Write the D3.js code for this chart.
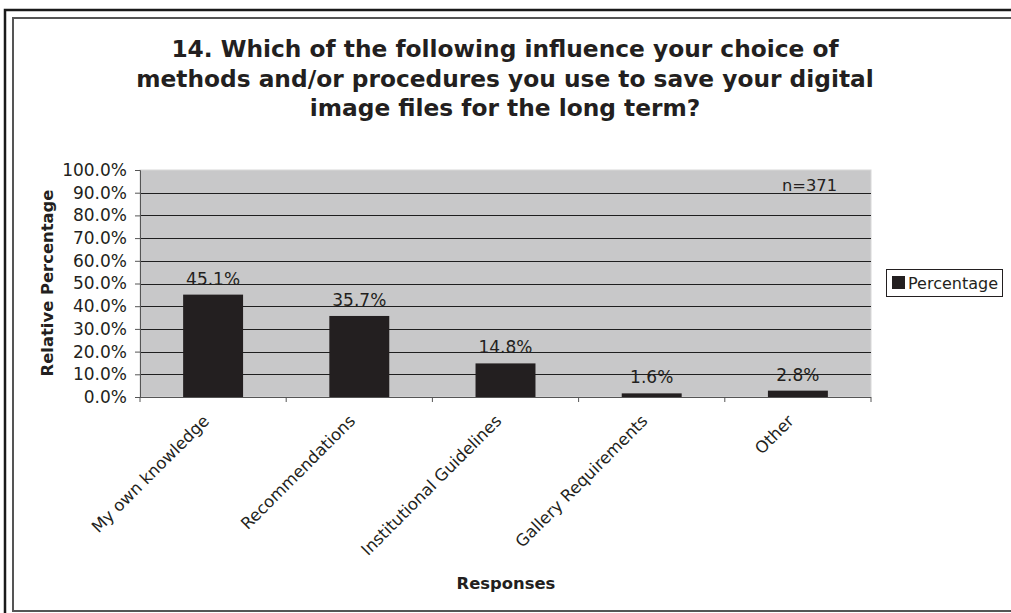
<!DOCTYPE html>
<html>
<head>
<meta charset="utf-8">
<script src="https://cdn.jsdelivr.net/npm/d3@7"></script>
<style>
  html, body { margin: 0; padding: 0; background: #fff; }
  svg { display: block; }
  text { font-family: "DejaVu Sans", Verdana, sans-serif; fill: #231f20; }
</style>
</head>
<body>
<script>
// Survey question 14: responses and their relative share
const categories = ["My own knowledge", "Recommendations", "Institutional Guidelines", "Gallery Requirements", "Other"];
const percentages = [45.1, 35.7, 14.8, 1.6, 2.8];
const yTicks = [0, 10, 20, 30, 40, 50, 60, 70, 80, 90, 100];
const titleLines = [
  "14. Which of the following influence your choice of",
  "methods and/or procedures you use to save your digital",
  "image files for the long term?"
];
const seriesName = "Percentage";
const sampleNote = "n=371";

const W = 1011, H = 613;
const plot = { left: 140, right: 871, top: 170, bottom: 397 };

const svg = d3.select("body").append("svg").attr("width", W).attr("height", H);

// Frames
svg.append("rect").attr("x", 5).attr("y", 10).attr("width", W + 10).attr("height", H + 10)
  .attr("fill", "none").attr("stroke", "#1a1a1a").attr("stroke-width", 2.5);
svg.append("rect").attr("x", 13).attr("y", 18).attr("width", W + 10).attr("height", 593)
  .attr("fill", "none").attr("stroke", "#555").attr("stroke-width", 2);

// Title
svg.append("g").selectAll("text").data(titleLines).join("text")
  .attr("x", 505).attr("y", (d, i) => 57 + i * 29.5)
  .attr("text-anchor", "middle").attr("font-weight", "bold").attr("font-size", 23.3)
  .text(d => d);

const x = d3.scaleBand().domain(categories).range([plot.left, plot.right]).paddingInner(0.59).paddingOuter(0.295);
const xBand = d3.scaleBand().domain(categories).range([plot.left, plot.right]);
const y = d3.scaleLinear().domain([0, 100]).range([plot.bottom, plot.top]);

// Plot background
svg.append("rect").attr("x", plot.left).attr("y", plot.top)
  .attr("width", plot.right - plot.left).attr("height", plot.bottom - plot.top)
  .attr("fill", "#c8c8c9").attr("stroke", "#d8d8d8");

// Gridlines
svg.append("g").selectAll("line").data(yTicks.filter(t => t > 0 && t < 100)).join("line")
  .attr("x1", plot.left).attr("x2", plot.right)
  .attr("y1", d => Math.round(y(d)) + 0.5).attr("y2", d => Math.round(y(d)) + 0.5)
  .attr("stroke", "#1f1f1f").attr("stroke-width", 1);

// Y axis
const yAxis = svg.append("g").attr("transform", `translate(${plot.left},0)`)
  .call(d3.axisLeft(y).tickValues(yTicks).tickSize(5).tickPadding(8).tickFormat(d => d.toFixed(1) + "%"));
yAxis.select(".domain").attr("stroke", "#555");
yAxis.selectAll(".tick line").attr("stroke", "#555");
yAxis.selectAll("text").attr("font-size", 17).attr("fill", "#231f20")
  .attr("font-family", "DejaVu Sans, Verdana, sans-serif");

// X axis (ticks at band boundaries)
const xAxisG = svg.append("g").attr("transform", `translate(0,${plot.bottom})`);
xAxisG.append("line").attr("x1", plot.left).attr("x2", plot.right).attr("y1", 0.5).attr("y2", 0.5)
  .attr("stroke", "#555");
const boundaries = categories.map(c => xBand(c)).concat([plot.right]);
xAxisG.selectAll("line.tk").data(boundaries).join("line").attr("class", "tk")
  .attr("x1", d => d).attr("x2", d => d).attr("y1", 0).attr("y2", 5).attr("stroke", "#555");

// Category labels
svg.append("g").selectAll("text").data(categories).join("text")
  .attr("transform", d => `translate(${xBand(d) + xBand.bandwidth() / 2 - 3},${plot.bottom + 25}) rotate(-45)`)
  .attr("text-anchor", "end").attr("font-size", 16.5)
  .text(d => d);

// Bars
svg.append("g").selectAll("rect").data(categories).join("rect")
  .attr("x", d => x(d)).attr("width", x.bandwidth())
  .attr("y", (d, i) => y(percentages[i])).attr("height", (d, i) => plot.bottom - y(percentages[i]))
  .attr("fill", "#231f20");

// Value labels
svg.append("g").selectAll("text").data(categories).join("text")
  .attr("x", d => x(d) + x.bandwidth() / 2)
  .attr("y", (d, i) => y(percentages[i]) - 10)
  .attr("text-anchor", "middle").attr("font-size", 17)
  .text((d, i) => percentages[i].toFixed(1) + "%");

// Sample size note
svg.append("text").attr("x", 837).attr("y", 191).attr("text-anchor", "end")
  .attr("font-size", 16.3).text(sampleNote);

// Axis titles
svg.append("text").attr("transform", "translate(53,283) rotate(-90)")
  .attr("text-anchor", "middle").attr("font-weight", "bold").attr("font-size", 16.4)
  .text("Relative Percentage");
svg.append("text").attr("x", 506).attr("y", 589).attr("text-anchor", "middle")
  .attr("font-weight", "bold").attr("font-size", 16.4).text("Responses");

// Legend
const lg = svg.append("g");
lg.append("rect").attr("x", 886.5).attr("y", 269.5).attr("width", 116).attr("height", 27)
  .attr("fill", "#fff").attr("stroke", "#231f20");
lg.append("rect").attr("x", 892).attr("y", 276).attr("width", 13).attr("height", 13).attr("fill", "#231f20");
lg.append("text").attr("x", 908).attr("y", 289).attr("font-size", 16).text(seriesName);
</script>
</body>
</html>
